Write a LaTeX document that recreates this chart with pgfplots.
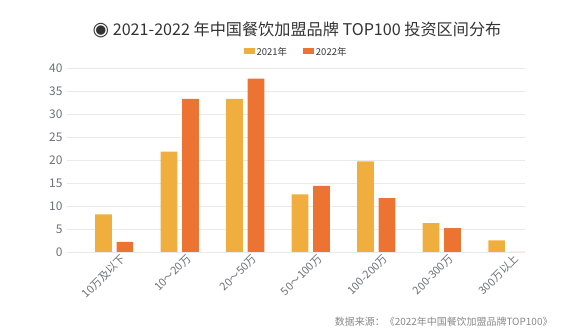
\documentclass[border=0pt]{standalone}
\usepackage{fontspec}
\usepackage{pgfplots}
\pgfplotsset{compat=1.18}
\setmainfont{Noto Sans CJK SC}
\newfontfamily\sym{DejaVu Sans}
\definecolor{c21}{HTML}{F0AE3E}
\definecolor{c22}{HTML}{EC7332}
\definecolor{txt}{HTML}{333333}
\definecolor{tickc}{HTML}{6E7079}
\definecolor{gridc}{HTML}{E9E9E9}
\definecolor{srcc}{HTML}{888888}
\begin{document}
\begin{tikzpicture}
\begin{axis}[
  at={(67bp,82bp)}, anchor=south west, scale only axis,
  width=458bp, height=184bp,
  ymin=0, ymax=40, ytick={0,5,...,40},
  xmin=-0.72, xmax=6.27, xtick={0,...,6},
  xticklabels={10万及以下,10～20万,20～50万,50～100万,100-200万,200-300万,300万以上},
  axis line style={draw=none}, major tick length=0pt,
  ymajorgrids, grid style={gridc, line width=0.8pt},
  x tick label style={rotate=45, anchor=east, font=\fontsize{11}{11}\selectfont, text=tickc, xshift=7bp, yshift=-10bp},
  y tick label style={font=\fontsize{12}{12}\selectfont, text=tickc, xshift=-1bp},
  /pgf/number format/assume math mode=true,
  ybar, bar width=16.7bp,
  legend style={at={(axis description cs:0.5,1.087)}, anchor=center, draw=none, fill=none,
    legend columns=2, font=\fontsize{9.5}{9.5}\selectfont, text=txt,
    /tikz/every even column/.append style={column sep=14bp}},
  legend image code/.code={\fill[#1] (0bp,-2.5bp) rectangle (11bp,3.5bp);},
]
\addplot[fill=c21, draw=none, bar shift=-10.7bp] coordinates {(0,8.2) (1,21.8) (2,33.3) (3,12.5) (4,19.7) (5,6.3) (6,2.5)};
\addplot[fill=c22, draw=none, bar shift=10.7bp] coordinates {(0,2.2) (1,33.3) (2,37.7) (3,14.4) (4,11.7) (5,5.2) (6,0)};
\legend{2021年,2022年}
\end{axis}
\node[text=txt, font=\fontsize{16.2}{16.2}\selectfont] at (297bp,304bp) {{\sym\fontsize{19}{19}\selectfont ◉} 2021-2022 年中国餐饮加盟品牌 TOP100 投资区间分布};
\node[text=srcc, anchor=east, font=\fontsize{10}{10}\selectfont] at (556bp,12bp) {数据来源：《2022年中国餐饮加盟品牌TOP100》};
\pgfresetboundingbox
\path[use as bounding box] (0bp,0bp) rectangle (587bp,334bp);
\end{tikzpicture}
\end{document}
